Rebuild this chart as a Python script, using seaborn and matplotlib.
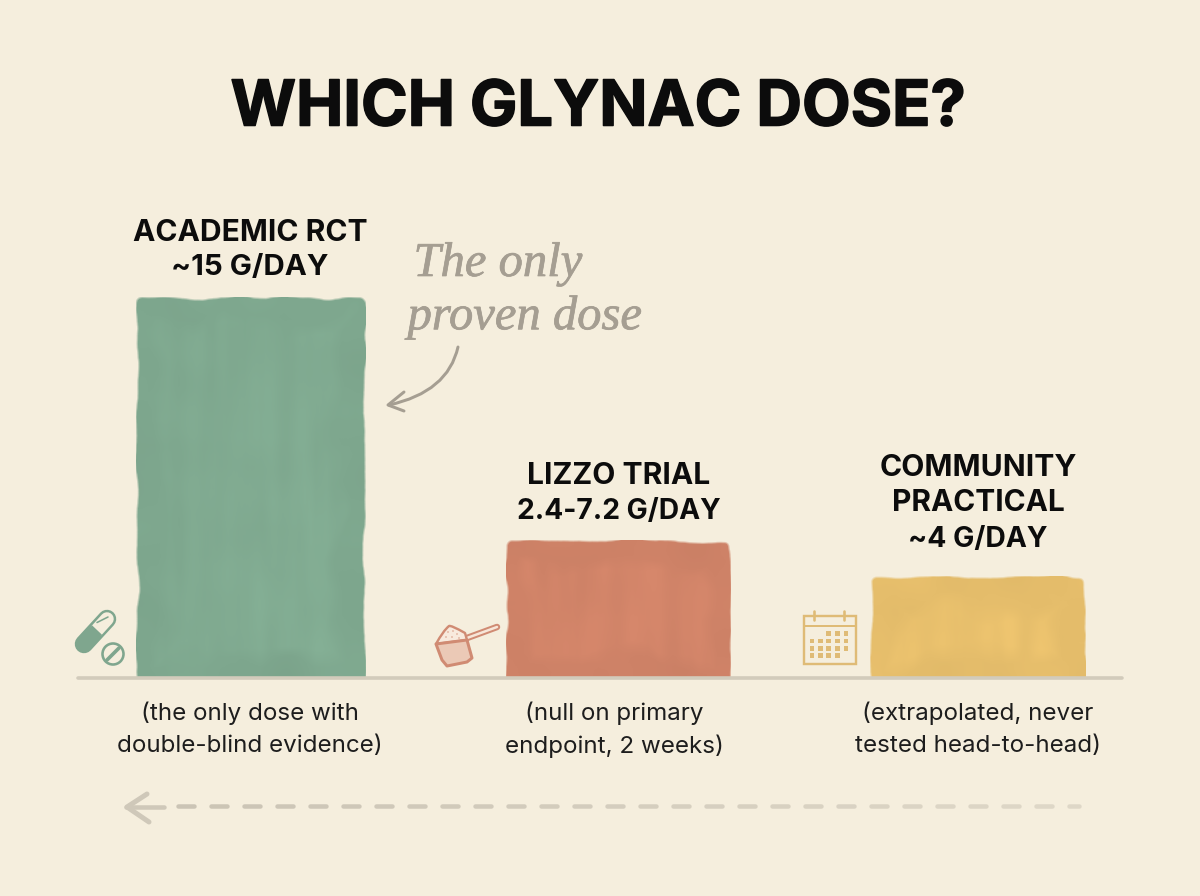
import numpy as np
import pandas as pd
import matplotlib
matplotlib.use("Agg")
import matplotlib.pyplot as plt
import matplotlib.patheffects as pe
from matplotlib.patches import Circle, Polygon, PathPatch, Rectangle
from matplotlib.path import Path
import seaborn as sns

# Chart content
doses = ["Academic RCT", "Lizzo trial", "Community practical"]
grams_per_day = [15, 5.4, 4]
bar_colors = ["#7EA78E", "#CE8267", "#E5BD6B"]
headers = [["ACADEMIC RCT", "~15 G/DAY"],
           ["LIZZO TRIAL", "2.4-7.2 G/DAY"],
           ["COMMUNITY", "PRACTICAL", "~4 G/DAY"]]
header_sizes = [[21.6, 21.3], [21.6, 20.3], [21.7, 21.5, 20.4]]
notes = [["(the only dose with", "double-blind evidence)"],
         ["(null on primary", "endpoint, 2 weeks)"],
         ["(extrapolated, never", "tested head-to-head)"]]
title = "WHICH GLYNAC DOSE?"
handwritten = ["The only", "proven dose"]

W, H = 1200, 896
BASE_Y = 678
PX_PER_G = 381 / 15
PAPER = "#F5EEDD"
INK = "#0C0C0C"
PENCIL = "#A59E92"

sns.set_theme(style="white")
plt.rcParams["font.family"] = ["Inter", "Open Sans", "DejaVu Sans"]
rng = np.random.default_rng(11)


def smooth(a, n, axis):
    n = min(n, a.shape[axis])
    kernel = np.ones(n) / n
    pad = [(0, 0), (0, 0)]
    pad[axis] = (n, n)
    wide = np.pad(a, pad, mode="reflect")
    out = np.apply_along_axis(lambda v: np.convolve(v, kernel, mode="same"), axis, wide)
    return out[n:-n, :] if axis == 0 else out[:, n:-n]


def soft_noise(h, w, ny, nx):
    a = rng.normal(size=(h, w))
    for _ in range(2):
        a = smooth(smooth(a, ny, 0), nx, 1)
    return a / a.std()


fig = plt.figure(figsize=(W / 100, H / 100), dpi=100, facecolor=PAPER)

# Bars, with y = 0 on the ground line
ax = fig.add_axes([0, 1 - BASE_Y / H, 1, BASE_Y / H], zorder=1)
ax.patch.set_alpha(0)
frame = pd.DataFrame({"dose": doses, "grams": grams_per_day})
sns.barplot(data=frame, x="dose", y="grams", hue="dose", palette=bar_colors,
            width=0.62, legend=False, saturation=1, ax=ax)
x_unit = 363.5
x_left = -251 / x_unit
ax.axis("off")

# Footprints of the three washes, in pixels across the page
spans = [(136, 366), (506, 731), (870, 1086)]
for patch, (p0, p1), color in zip(ax.patches, spans, bar_colors):
    patch.set_x(x_left + p0 / x_unit)
    patch.set_width((p1 - p0) / x_unit)
    x0, x1 = patch.get_x(), patch.get_x() + patch.get_width()
    y1 = patch.get_height()
    w_px, h_px = int(p1 - p0), int(round(y1 * PX_PER_G))

    # The solid fill stays just inside the feathered rim of the wash
    inset_x, inset_y = 5 / x_unit, 5 / PX_PER_G
    patch.set_clip_path(Rectangle((x0 + inset_x, 0), x1 - x0 - 2 * inset_x, y1 - inset_y,
                                  transform=ax.transData))

    yy, xx = np.mgrid[0:h_px, 0:w_px].astype(float)

    # Feathered edge with slightly rounded upper corners
    r = 6.0
    dx = np.maximum.reduce([r - xx, xx - (w_px - 1 - r), np.zeros_like(xx)])
    dy = np.maximum(r - yy, 0)
    edge = r - np.hypot(dx, dy) + 0.6 + 0.8 * soft_noise(h_px, w_px, 19, 19)
    alpha = np.clip(edge / 2.5, 0, 1)

    # Lighter inner panel, darker pigment band around it, soft vertical brush marks
    inner = np.minimum.reduce([xx - 22, w_px - 22 - xx, yy - 24, h_px - 16 - yy])
    inner = inner + 5 * soft_noise(h_px, w_px, 31, 31)
    panel = np.clip(inner / 14.0, 0, 1)
    streaks = soft_noise(h_px, w_px, 91, 11)
    clouds = soft_noise(h_px, w_px, 31, 31)
    shade = 1 + panel * (0.024 + 0.008 * streaks) + 0.005 * clouds
    rgb = np.array(matplotlib.colors.to_rgb(color))
    img = np.dstack([np.clip(rgb[None, None, :] * shade[..., None], 0, 1), alpha])
    ax.imshow(img, extent=(x0, x1, 0, y1), aspect="auto", interpolation="bilinear", zorder=3)

ax.set_xlim(x_left, x_left + W / x_unit)
ax.set_ylim(0, BASE_Y / PX_PER_G)

# Page-pixel layer for text and drawn details
page = fig.add_axes([0, 0, 1, 1], zorder=2)
page.set_xlim(0, W)
page.set_ylim(H, 0)
page.axis("off")
page.patch.set_alpha(0)


def px(width):
    return width * 0.72


def stroke(xs, ys, color, width, z=4, alpha=1.0, cap="round"):
    page.plot(xs, ys, color=color, lw=px(width), solid_capstyle=cap, zorder=z,
              alpha=alpha, solid_joinstyle="round")


# Ground line
stroke([78, 1122], [678.5, 678.5], "#D2CBBB", 3.6, z=2)

# Title and labels
page.text(598, 109, title, ha="center", va="center", fontsize=45.5, fontweight="bold",
          color=INK, path_effects=[pe.withStroke(linewidth=1.1, foreground=INK)])

label_rows = [[233, 268], [476, 512], [468, 503, 540]]
label_x = [250, 619, 978]
for lines, rows, sizes, cx in zip(headers, label_rows, header_sizes, label_x):
    for line, y, size in zip(lines, rows, sizes):
        page.text(cx, y, line, ha="center", va="center", fontsize=size, fontweight="bold",
                  color=INK)

note_x = [250, 614, 978]
for lines, cx in zip(notes, note_x):
    for line, y in zip(lines, [713, 746]):
        page.text(cx, y, line, ha="center", va="center", fontsize=17.4, color="#1D1D1D")

# Handwritten remark and its curved arrow
for line, (hx, hy) in zip(handwritten, [(498, 264), (525, 317)]):
    page.text(hx, hy, line, ha="center", va="center", fontsize=35, style="italic",
              family="Liberation Serif", color=PENCIL,
              path_effects=[pe.withStroke(linewidth=0.5, foreground=PENCIL)])
curve = Path([(458, 347), (448, 392), (389, 405)], [Path.MOVETO, Path.CURVE3, Path.CURVE3])
page.add_patch(PathPatch(curve, fill=False, ec=PENCIL, lw=px(3), capstyle="round", zorder=4))
stroke([404, 388, 404], [392, 405, 411], PENCIL, 3)

# Dashed arrow along the bottom, fading to the right
stroke([164, 126], [807, 807], "#CFC8B9", 4.5)
stroke([147, 127, 149], [794, 807, 822], "#CFC8B9", 5)
for x_start in np.arange(178, 1070, 33):
    fade = (x_start - 178) / 900
    length = 16 if x_start < 1040 else 10
    stroke([x_start, x_start + length], [806.5, 806.5], "#C9C2B3", 4.5,
           alpha=0.95 - 0.45 * fade)

# Capsule and tablet
GREEN = "#7FA68E"
stroke([84, 107], [644, 619], GREEN, 18.5)
stroke([97, 107], [630, 619], PAPER, 13.5, z=5)
stroke([88, 97], [639.5, 630], GREEN, 13.5, z=5, cap="butt")
stroke([97, 108], [622.5, 617], GREEN, 1.6, z=6)
page.add_patch(Circle((113, 654), 10.5, fc="none", ec=GREEN, lw=px(2.6), zorder=5))
stroke([107, 119], [660, 648], GREEN, 3.6, z=5)

# Measuring scoop
CLAY = "#D08B73"
handle = ([467, 497], [638, 627])
stroke(*handle, CLAY, 6.5)
stroke(*handle, "#F7E6D8", 2.5, z=5)
mound = Path([(436, 644), (443, 631), (449, 626), (451, 625), (465, 633), (467, 640), (436, 644)],
             [Path.MOVETO, Path.CURVE3, Path.LINETO, Path.CURVE3, Path.CURVE3, Path.LINETO,
              Path.CLOSEPOLY])
page.add_patch(PathPatch(mound, fc="#F8EADD", ec=CLAY, lw=px(2.4), zorder=5, joinstyle="round"))
for sx, sy in [(448, 632), (453, 631), (457, 634), (446, 637), (452, 637), (459, 638)]:
    page.add_patch(Circle((sx, sy), 0.7, fc=CLAY, ec="none", zorder=6))
cup = [(436, 644), (467, 640), (472, 658), (467, 662), (447, 666), (442, 660)]
page.add_patch(Polygon(cup, closed=True, fc="#EBC9B6", ec=CLAY, lw=px(3), zorder=6,
                       joinstyle="round"))

# Calendar
SAND = "#DFBB76"
page.add_patch(Rectangle((804, 616), 52, 48, fc="none", ec=SAND, lw=px(2.4), zorder=5))
stroke([804, 856], [626, 626], SAND, 2)
stroke([814, 814], [611, 620], SAND, 2.6)
stroke([844, 844], [611, 620], SAND, 2.6)
grid_x = [812, 820.7, 828.7, 837.3, 846]
grid_y = [633.3, 641, 648.3, 655.7]
filled = [[2, 3, 4], [0, 1, 2, 3, 4], [0, 1, 2, 3, 4], [0, 1, 2, 3]]
for gy, cols in zip(grid_y, filled):
    for c in cols:
        page.add_patch(Rectangle((grid_x[c] - 2.3, gy - 2.3), 4.6, 4.6, fc=SAND, ec="none",
                                 zorder=5))

fig.savefig("out.png", dpi=100, facecolor=PAPER)
